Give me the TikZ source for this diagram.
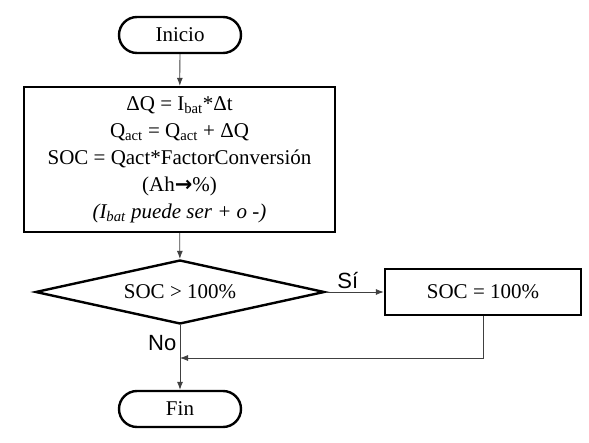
\documentclass[tikz,border=0pt]{standalone}
\usepackage{fontspec}
\setmainfont{Liberation Serif}
\newfontfamily\labelfont{Liberation Sans}
\newfontfamily\arrowfont{DejaVu Sans}
\usetikzlibrary{shapes.geometric, shapes.misc, arrows.meta, positioning}

\begin{document}
\begin{tikzpicture}[x=1pt, y=1pt, font=\fontsize{21}{27}\selectfont, >={Latex[length=8pt, width=6pt]},
    terminal/.style={rounded rectangle, draw, line width=2.4pt, minimum width=122pt, minimum height=36pt, inner sep=0pt},
    process/.style={rectangle, draw, line width=2.4pt, align=center, inner sep=0pt},
    decision/.style={diamond, draw, line width=2.4pt, aspect=4.5, inner sep=0pt, minimum width=289pt, minimum height=64pt},
    flow/.style={->, draw=black!75, line width=0.8pt},
    answer/.style={font=\labelfont\fontsize{22}{26}\selectfont}]
    \useasboundingbox (0,0) rectangle (589,-443);
    \node[terminal] (inicio) at (180,-35) {Inicio};
    \node[process, minimum width=311pt, minimum height=145pt] (calc) at (179.5,-159.5)
        {ΔQ = I\textsubscript{bat}*Δt\\
         Q\textsubscript{act} = Q\textsubscript{act} + ΔQ\\
         SOC = Qact*FactorConversión\\
         (Ah{\arrowfont\bfseries →}\%)\\
         \textit{(I\textsubscript{bat} puede ser + o -)}};
    \node[decision] (cond) at (180,-292) {SOC > 100\%};
    \node[process, minimum width=196pt, minimum height=46pt] (limite) at (483,-292) {SOC = 100\%};
    \node[terminal] (fin) at (180,-409) {Fin};
    \coordinate (union) at (180,-358);
    \draw[flow] (inicio) -- (calc);
    \draw[flow] (calc) -- (cond);
    \draw[flow] (cond.east) -- node[answer, pos=0.38, above]{Sí} (limite);
    \draw[flow] (cond) -- node[answer, pos=0.28, left]{No} (fin);
    \draw[flow] (limite) |- (union);
\end{tikzpicture}
\end{document}
